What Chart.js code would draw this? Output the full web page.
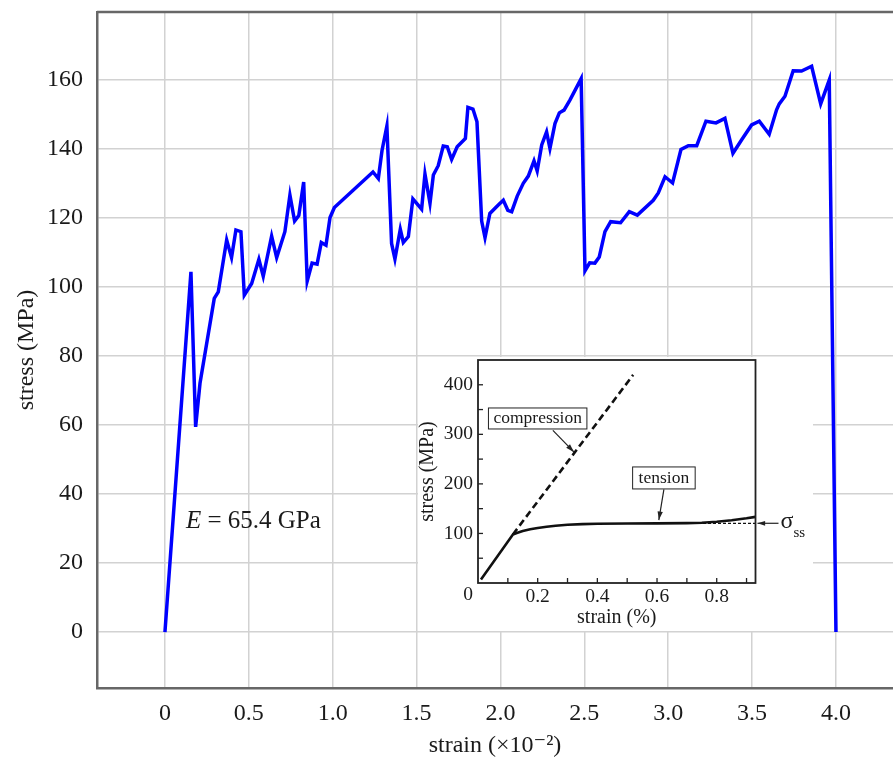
<!DOCTYPE html>
<html>
<head>
<meta charset="utf-8">
<script src="https://cdn.jsdelivr.net/npm/chart.js@4"></script>
<style>
  html,body{margin:0;padding:0;background:#fff;overflow:hidden;}
  #wrap{position:relative;width:893px;height:758px;}
  #main{position:absolute;left:0;top:0;}
  #inset{position:absolute;left:418px;top:357px;background:#fff;}
</style>
</head>
<body>
<div id="wrap">
  <canvas id="main" width="893" height="758"></canvas>
  <canvas id="inset" width="395" height="274"></canvas>
</div>
<script>
// ---------- main chart data ----------
const strain = [0, 0.155, 0.183, 0.209, 0.294, 0.318, 0.368, 0.397, 0.423, 0.453, 0.473, 0.517, 0.560, 0.586, 0.636, 0.666, 0.715, 0.745, 0.773, 0.798, 0.827, 0.848, 0.877, 0.907, 0.932, 0.960, 0.984, 1.010, 1.240, 1.272, 1.294, 1.323, 1.351, 1.371, 1.403, 1.421, 1.451, 1.478, 1.530, 1.550, 1.580, 1.600, 1.629, 1.659, 1.683, 1.709, 1.742, 1.791, 1.806, 1.836, 1.860, 1.888, 1.908, 1.937, 1.987, 2.017, 2.044, 2.067, 2.100, 2.136, 2.166, 2.200, 2.219, 2.246, 2.275, 2.295, 2.325, 2.351, 2.379, 2.414, 2.481, 2.504, 2.532, 2.563, 2.589, 2.623, 2.657, 2.716, 2.768, 2.816, 2.911, 2.941, 2.981, 3.026, 3.076, 3.120, 3.170, 3.225, 3.285, 3.338, 3.386, 3.438, 3.497, 3.543, 3.602, 3.646, 3.662, 3.696, 3.745, 3.795, 3.855, 3.909, 3.960, 4.000];
const stress = [0, 104.3, 59.4, 72.0, 96.6, 98.5, 113.5, 108.4, 116.4, 115.9, 97.5, 100.9, 107.9, 103.0, 114.6, 108.4, 115.9, 126.5, 119.0, 120.6, 130.3, 101.6, 106.8, 106.5, 112.8, 112.0, 120.0, 122.9, 133.2, 131.3, 139.4, 146.5, 112.5, 108.0, 116.6, 112.8, 114.5, 125.4, 122.4, 132.6, 124.1, 132.3, 135.0, 140.7, 140.5, 136.8, 140.5, 142.9, 151.9, 151.4, 147.7, 119.0, 114.2, 121.2, 123.6, 125.0, 122.1, 121.7, 126.2, 129.9, 132.0, 136.4, 133.5, 141.0, 144.8, 140.0, 147.2, 150.3, 151.1, 154.0, 160.2, 104.6, 106.9, 106.8, 108.6, 115.9, 118.8, 118.5, 121.7, 120.7, 125.0, 127.1, 131.8, 130.0, 139.7, 140.8, 140.8, 147.9, 147.4, 148.7, 138.6, 142.5, 146.8, 147.9, 144.1, 151.2, 152.9, 155.1, 162.5, 162.4, 163.8, 152.9, 159.8, 0];
const xTicks = [0, 0.5, 1.0, 1.5, 2.0, 2.5, 3.0, 3.5, 4.0];
const yTicks = [0, 20, 40, 60, 80, 100, 120, 140, 160];
const xTitle = 'strain (×10⁻²)';
const yTitle = 'stress (MPa)';
const modulusLabel = ['E', ' = 65.4 GPa'];

// ---------- inset data ----------
const insetTensionStrain = [0.01, 0.117, 0.13, 0.15, 0.175, 0.20, 0.23, 0.26, 0.30, 0.35, 0.40, 0.50, 0.60, 0.70, 0.75, 0.80, 0.85, 0.90, 0.93];
const insetTensionStress = [7, 98, 101, 105, 108.5, 111, 113.5, 115.5, 117.5, 118.8, 119.5, 120, 120.3, 120.8, 121.5, 123.5, 126.5, 130.5, 133.5];
const insetCompStrain = [0.117, 0.52];
const insetCompStress = [98, 420];
const insetSSStrain = [0.62, 0.93];
const insetSSStress = [120.5, 120.5];
const insetXTicks = [0.2, 0.4, 0.6, 0.8];
const insetYTicks = [100, 200, 300, 400];
const insetXTitle = 'strain (%)';
const insetYTitle = 'stress (MPa)';

const SERIF = '"Liberation Serif", "DejaVu Serif", serif';
const TXT = '#1a1a1a';

function pts(xs, ys){ return xs.map((x,i)=>({x:x, y:ys[i]})); }
function noPad(s){ s.paddingTop = 0; s.paddingBottom = 0; s.paddingLeft = 0; s.paddingRight = 0; }

const frameColor = '#676767';
const mainPlugin = {
  id:'mainExtras',
  afterDraw(chart){
    const {ctx, chartArea:a, scales:{x,y}} = chart;
    ctx.save();
    ctx.strokeStyle = frameColor; ctx.lineWidth = 2.5;
    ctx.beginPath(); ctx.moveTo(a.left, a.top); ctx.lineTo(a.right, a.top); ctx.stroke();
    const px = x.getPixelForValue(0.125), py = y.getPixelForValue(30.2);
    ctx.fillStyle = TXT; ctx.textBaseline = 'alphabetic'; ctx.textAlign='left';
    ctx.font = 'italic 25px ' + SERIF;
    ctx.fillText(modulusLabel[0], px, py);
    const w = ctx.measureText(modulusLabel[0]).width;
    ctx.font = '25px ' + SERIF;
    ctx.fillText(modulusLabel[1], px + w, py);
    ctx.restore();
  }
};

new Chart(document.getElementById('main'), {
  type:'line',
  data:{ datasets:[{
    data: pts(strain, stress),
    borderColor:'#0000ff', borderWidth:3.5, pointRadius:0, tension:0,
    borderJoinStyle:'miter', fill:false
  }]},
  options:{
    responsive:false, animation:false, devicePixelRatio:1,
    layout:{padding:{top:12, left:0, right:0, bottom:0}},
    plugins:{legend:{display:false}, tooltip:{enabled:false}},
    scales:{
      x:{
        type:'linear', min:-0.405, max:4.34,
        afterBuildTicks(s){ s.ticks = xTicks.map(v=>({value:v})); },
        afterFit(s){ s.height = 70; noPad(s); },
        grid:{color:'#d2d2d2', lineWidth:1.5, drawTicks:false},
        border:{color:frameColor, width:2.5},
        ticks:{padding:11, color:TXT, font:{family:SERIF, size:24}, maxRotation:0,
          callback:(v)=> v===0 ? '0' : v.toFixed(1)},
        title:{display:true, text:xTitle, color:TXT, font:{family:SERIF, size:24, lineHeight:1.0}, padding:{top:0,bottom:0}}
      },
      y:{
        type:'linear', min:-16.2, max:179.5,
        afterBuildTicks(s){ s.ticks = yTicks.map(v=>({value:v})); },
        afterFit(s){ s.width = 97; noPad(s); },
        grid:{color:'#d2d2d2', lineWidth:1.5, drawTicks:false},
        border:{color:frameColor, width:2.5},
        ticks:{padding:14, color:TXT, font:{family:SERIF, size:24}, callback:(v)=> String(v)},
        title:{display:true, text:yTitle, color:TXT, font:{family:SERIF, size:24, lineHeight:1.2}, padding:{top:12,bottom:0}}
      }
    }
  },
  plugins:[mainPlugin]
});

// ---------- inset ----------
function arrow(ctx, x1,y1,x2,y2, head){
  ctx.beginPath(); ctx.moveTo(x1,y1); ctx.lineTo(x2,y2); ctx.stroke();
  const ang = Math.atan2(y2-y1, x2-x1);
  ctx.beginPath();
  ctx.moveTo(x2,y2);
  ctx.lineTo(x2 - head*Math.cos(ang-0.3), y2 - head*Math.sin(ang-0.3));
  ctx.lineTo(x2 - head*Math.cos(ang+0.3), y2 - head*Math.sin(ang+0.3));
  ctx.closePath(); ctx.fill();
}
const insetPlugin = {
  id:'insetExtras',
  beforeDraw(chart){
    const {ctx} = chart;
    ctx.save(); ctx.fillStyle='#fff'; ctx.fillRect(0,0,chart.width,chart.height); ctx.restore();
  },
  afterDraw(chart){
    const {ctx, chartArea:a, scales:{x,y}} = chart;
    ctx.save();
    ctx.strokeStyle='#222'; ctx.lineWidth=1.8;
    ctx.strokeRect(a.left, a.top, a.right-a.left, a.bottom-a.top);
    ctx.lineWidth=1.3;
    for(let v=50; v<450; v+=50){
      const py = y.getPixelForValue(v);
      ctx.beginPath(); ctx.moveTo(a.left, py); ctx.lineTo(a.left+5, py); ctx.stroke();
    }
    for(let v=0.1; v<0.92; v+=0.1){
      const px = x.getPixelForValue(v);
      ctx.beginPath(); ctx.moveTo(px, a.bottom); ctx.lineTo(px, a.bottom-5); ctx.stroke();
    }
    // corner zero
    ctx.fillStyle=TXT; ctx.font='19.5px '+SERIF; ctx.textAlign='center'; ctx.textBaseline='middle';
    ctx.fillText('0', a.left-10, a.bottom+12);
    // compression label
    ctx.lineWidth=1;
    const cbx = x.getPixelForValue(0.2), cby = y.getPixelForValue(332);
    ctx.font='17.5px '+SERIF;
    let tw = ctx.measureText('compression').width;
    ctx.fillStyle='#fff'; ctx.fillRect(cbx-tw/2-5, cby-10.5, tw+10, 21);
    ctx.strokeStyle='#222'; ctx.strokeRect(cbx-tw/2-5, cby-10.5, tw+10, 21);
    ctx.fillStyle=TXT; ctx.fillText('compression', cbx, cby);
    ctx.strokeStyle='#222'; ctx.fillStyle='#222'; ctx.lineWidth=1.2;
    arrow(ctx, x.getPixelForValue(0.251), y.getPixelForValue(308), x.getPixelForValue(0.322), y.getPixelForValue(264), 9);
    // tension label
    const tbx = x.getPixelForValue(0.623), tby = y.getPixelForValue(212);
    tw = ctx.measureText('tension').width;
    ctx.fillStyle='#fff'; ctx.fillRect(tbx-tw/2-6, tby-11, tw+12, 22);
    ctx.lineWidth=1; ctx.strokeRect(tbx-tw/2-6, tby-11, tw+12, 22);
    ctx.fillStyle=TXT; ctx.fillText('tension', tbx, tby);
    ctx.fillStyle='#222'; ctx.lineWidth=1.2;
    arrow(ctx, x.getPixelForValue(0.623), y.getPixelForValue(189), x.getPixelForValue(0.606), y.getPixelForValue(127), 9);
    // sigma_ss arrow and label
    const sy = y.getPixelForValue(120.5);
    arrow(ctx, a.right+23, sy, a.right+2, sy, 8);
    ctx.fillStyle=TXT; ctx.textAlign='left'; ctx.textBaseline='alphabetic';
    ctx.font='24px '+SERIF;
    ctx.fillText('σ', a.right+25, sy+5);
    const sw = ctx.measureText('σ').width;
    ctx.font='15px '+SERIF;
    ctx.fillText('ss', a.right+25+sw, sy+14);
    ctx.restore();
  }
};

new Chart(document.getElementById('inset'), {
  type:'line',
  data:{ datasets:[
    {data: pts(insetTensionStrain, insetTensionStress), borderColor:'#111', borderWidth:2.6, pointRadius:0, tension:0, borderJoinStyle:'round', fill:false},
    {data: pts(insetCompStrain, insetCompStress), borderColor:'#111', borderWidth:2.6, borderDash:[7,4], pointRadius:0, fill:false},
    {data: pts(insetSSStrain, insetSSStress), borderColor:'#111', borderWidth:1.2, borderDash:[3,2], pointRadius:0, fill:false}
  ]},
  options:{
    responsive:false, animation:false, devicePixelRatio:1,
    layout:{padding:{top:3, right:57.5, left:0, bottom:0}},
    plugins:{legend:{display:false}, tooltip:{enabled:false}},
    scales:{
      x:{
        type:'linear', min:0, max:0.93,
        afterBuildTicks(s){ s.ticks = insetXTicks.map(v=>({value:v})); },
        afterFit(s){ s.height = 48; noPad(s); },
        grid:{display:false, drawTicks:false},
        border:{display:false},
        ticks:{padding:2, color:TXT, font:{family:SERIF, size:19.5}, maxRotation:0, callback:(v)=>v.toFixed(1)},
        title:{display:true, text:insetXTitle, color:TXT, font:{family:SERIF, size:20, lineHeight:1.0}, padding:{top:0,bottom:3}}
      },
      y:{
        type:'linear', min:0, max:450,
        afterBuildTicks(s){ s.ticks = insetYTicks.map(v=>({value:v})); },
        afterFit(s){ s.width = 60; noPad(s); },
        grid:{display:false, drawTicks:false},
        border:{display:false},
        ticks:{padding:5, color:TXT, font:{family:SERIF, size:19.5}, callback:(v)=>String(v)},
        title:{display:true, text:insetYTitle, color:TXT, font:{family:SERIF, size:20, lineHeight:1.0}, padding:{top:0,bottom:0}}
      }
    }
  },
  plugins:[insetPlugin]
});
</script>
</body>
</html>
